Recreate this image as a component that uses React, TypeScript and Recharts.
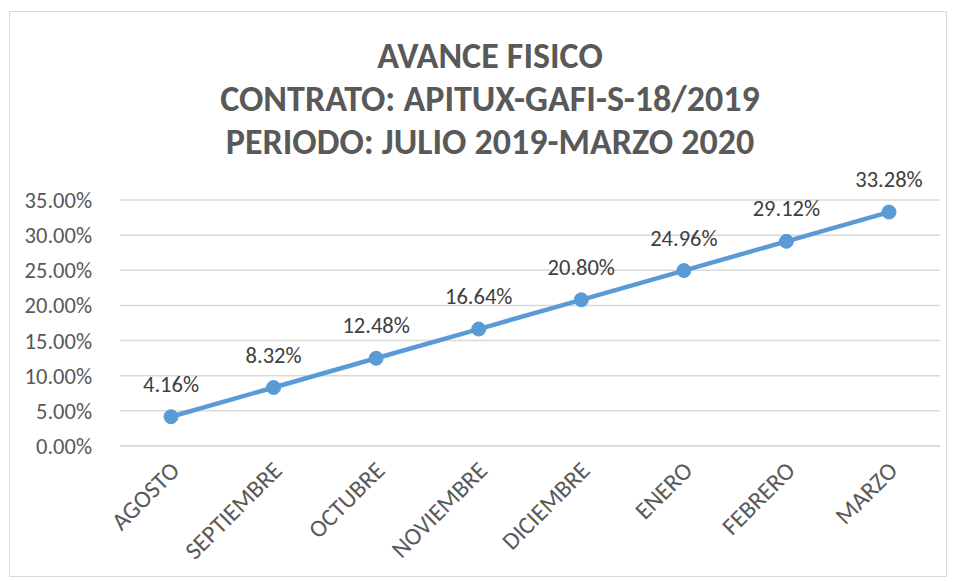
import { CartesianGrid, LabelList, Line, LineChart, XAxis, YAxis } from "recharts";

const months = [
  "AGOSTO",
  "SEPTIEMBRE",
  "OCTUBRE",
  "NOVIEMBRE",
  "DICIEMBRE",
  "ENERO",
  "FEBRERO",
  "MARZO",
];

const avance = [0.0416, 0.0832, 0.1248, 0.1664, 0.208, 0.2496, 0.2912, 0.3328];

const yTicks = [0, 0.05, 0.1, 0.15, 0.2, 0.25, 0.3, 0.35];

const titleLines = [
  "AVANCE FISICO",
  "CONTRATO: APITUX-GAFI-S-18/2019",
  "PERIODO: JULIO 2019-MARZO 2020",
];

const FONT = "Carlito, Lato, 'Open Sans', sans-serif";
const pct = (v: number) => `${(v * 100).toFixed(2)}%`;

const data = months.map((month, i) => ({ month, value: avance[i] }));

function MonthTick(props: any) {
  const { x, y, payload } = props;
  return (
    <text
      transform={`translate(${x + 10}, ${y + 18}) rotate(-45)`}
      textAnchor="end"
      fill="#595959"
      fontSize={24.5}
      fontFamily={FONT}
    >
      {payload.value}
    </text>
  );
}

export default function App() {
  return (
    <div
      style={{
        position: "absolute",
        left: 0,
        top: 0,
        width: 956,
        height: 582,
        background: "#fff",
      }}
    >
      <div
        style={{
          position: "absolute",
          left: 9,
          top: 11,
          width: 936,
          height: 564,
          border: "1px solid #d9d9d9",
        }}
      />
      <div
        style={{
          position: "absolute",
          left: 0,
          top: 35,
          width: 980,
          textAlign: "center",
          fontFamily: FONT,
          fontWeight: "bold",
          fontSize: 36,
          lineHeight: "43px",
          color: "#595959",
        }}
      >
        {titleLines.map((t) => (
          <div key={t}>{t}</div>
        ))}
      </div>
      <LineChart
        width={956}
        height={582}
        data={data}
        margin={{ top: 200, right: 16, bottom: 0, left: 0 }}
        style={{ position: "absolute", left: 0, top: 0 }}
      >
        <CartesianGrid vertical={false} stroke="#d9d9d9" strokeWidth={1.5} />
        <XAxis
          dataKey="month"
          height={136}
          padding={{ left: 51, right: 51 }}
          axisLine={{ stroke: "#d9d9d9", strokeWidth: 1.5 }}
          tickLine={false}
          tick={<MonthTick />}
          interval={0}
        />
        <YAxis
          width={120}
          domain={[0, 0.35]}
          ticks={yTicks}
          tickFormatter={pct}
          axisLine={false}
          tickLine={false}
          tickMargin={22}
          tick={{ fill: "#595959", fontSize: 22.5, fontFamily: FONT }}
        />
        <Line
          dataKey="value"
          stroke="#5b9bd5"
          strokeWidth={4.5}
          dot={{ r: 7, fill: "#5b9bd5", stroke: "#5b9bd5", strokeWidth: 1 }}
          isAnimationActive={false}
        >
          <LabelList
            dataKey="value"
            position="top"
            offset={25}
            formatter={(v: any) => pct(Number(v))}
            fill="#404040"
            fontSize={22.5}
            fontFamily={FONT}
          />
        </Line>
      </LineChart>
    </div>
  );
}
